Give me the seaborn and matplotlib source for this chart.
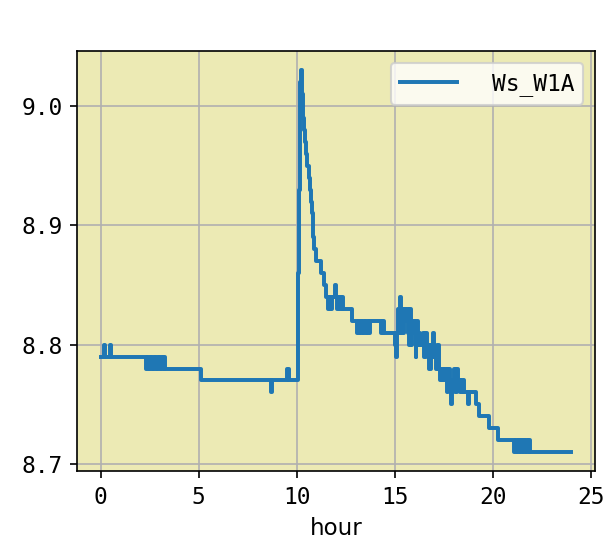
import matplotlib
matplotlib.use("Agg")
import matplotlib.pyplot as plt
import seaborn as sns
import pandas as pd

# step data (value holds until next time stamp)
hours = [
    0.00, 0.15, 0.20, 0.49, 0.54,
    2.30, 2.40, 2.50, 2.60, 2.70, 2.80, 2.90, 3.00, 3.10, 3.20, 3.30, 3.40,
    5.09, 8.68, 8.74, 9.52, 9.58,
    10.05, 10.08, 10.11, 10.14, 10.17, 10.19,
    10.24, 10.27, 10.30, 10.34, 10.38, 10.42, 10.48, 10.54, 10.60, 10.66,
    10.71, 10.76, 10.81, 10.85, 10.90, 10.98, 11.22, 11.40, 11.50, 11.60,
    11.66, 11.74, 11.82, 11.94, 11.98, 12.06, 12.12, 12.20, 12.30, 12.38,
    12.80, 13.05, 13.15, 13.25, 13.35, 13.45, 13.55, 13.65, 13.75, 13.83,
    14.30, 14.38, 14.46, 14.55,
    15.00, 15.05, 15.10, 15.16, 15.22, 15.27, 15.31, 15.38, 15.45, 15.52,
    15.58, 15.65, 15.72, 15.78, 15.84, 15.90, 15.98, 16.06, 16.10, 16.16,
    16.22, 16.28, 16.35, 16.42, 16.50, 16.58, 16.66, 16.74, 16.82, 16.90,
    16.97, 17.01, 17.08, 17.16, 17.24, 17.32, 17.40, 17.48, 17.56, 17.64,
    17.72, 17.80, 17.88, 17.93, 18.00, 18.08, 18.16, 18.24, 18.32, 18.42,
    18.52, 18.72, 18.77, 19.12, 19.28, 19.80, 20.25,
    21.10, 21.18, 21.26, 21.34, 21.42, 21.50, 21.58, 21.66, 21.74, 21.82,
    21.90, 21.95, 24.00,
]
ws_w1a = [
    8.79, 8.80, 8.79, 8.80, 8.79,
    8.78, 8.79, 8.78, 8.79, 8.78, 8.79, 8.78, 8.79, 8.78, 8.79, 8.78, 8.78,
    8.77, 8.76, 8.77, 8.78, 8.77,
    8.80, 8.86, 8.93, 8.99, 9.02, 9.03,
    9.02, 9.01, 9.00, 8.99, 8.98, 8.97, 8.96, 8.95, 8.94, 8.93,
    8.92, 8.91, 8.90, 8.89, 8.88, 8.87, 8.86, 8.85, 8.84, 8.83,
    8.84, 8.83, 8.84, 8.85, 8.84, 8.83, 8.84, 8.83, 8.84, 8.83,
    8.82, 8.81, 8.82, 8.81, 8.82, 8.81, 8.82, 8.81, 8.82, 8.82,
    8.81, 8.82, 8.81, 8.81,
    8.80, 8.79, 8.81, 8.83, 8.81, 8.84, 8.83, 8.81, 8.83, 8.82,
    8.83, 8.81, 8.80, 8.83, 8.80, 8.82, 8.81, 8.79, 8.82, 8.80,
    8.81, 8.80, 8.80, 8.81, 8.79, 8.81, 8.80, 8.78, 8.80, 8.79,
    8.81, 8.79, 8.78, 8.80, 8.78, 8.77, 8.78, 8.77, 8.78, 8.76,
    8.78, 8.77, 8.75, 8.77, 8.78, 8.76, 8.78, 8.77, 8.76, 8.77,
    8.76, 8.75, 8.76, 8.75, 8.74, 8.73, 8.72,
    8.71, 8.72, 8.71, 8.72, 8.71, 8.72, 8.71, 8.72, 8.71, 8.72,
    8.71, 8.71, 8.71,
]
x_ticks = [0, 5, 10, 15, 20, 25]
y_ticks = [8.7, 8.8, 8.9, 9.0]
series_name = "Ws_W1A"

df = pd.DataFrame({"hour": hours, series_name: ws_w1a})

fig = plt.figure(figsize=(606 / 150, 551 / 150), dpi=150)
ax = fig.add_axes([0.1275, 0.145, 0.854, 0.762])
ax.set_facecolor("#ECEAB4")

sns.lineplot(
    data=df, x="hour", y=series_name, ax=ax, label=series_name,
    color="#1f77b4", lw=1.9, drawstyle="steps-post",
    estimator=None, sort=False,
)

ax.grid(True, color="#b0b0b0", lw=0.8)
ax.set_axisbelow(True)
ax.set_xticks(x_ticks)
ax.set_yticks(y_ticks)
ax.set_yticklabels([f"{v:.1f}" for v in y_ticks])
for lab in ax.get_xticklabels() + ax.get_yticklabels():
    lab.set_fontfamily("DejaVu Sans Mono")
    lab.set_fontsize(11)
ax.set_xlabel("hour", fontsize=11)
ax.set_ylabel("")
for s in ax.spines.values():
    s.set_color("black")
    s.set_linewidth(0.8)

leg = ax.legend(loc="upper right", handlelength=2.5, handletextpad=1.5,
                prop={"family": "DejaVu Sans Mono", "size": 11})

fig.savefig("out.png", dpi=150)
